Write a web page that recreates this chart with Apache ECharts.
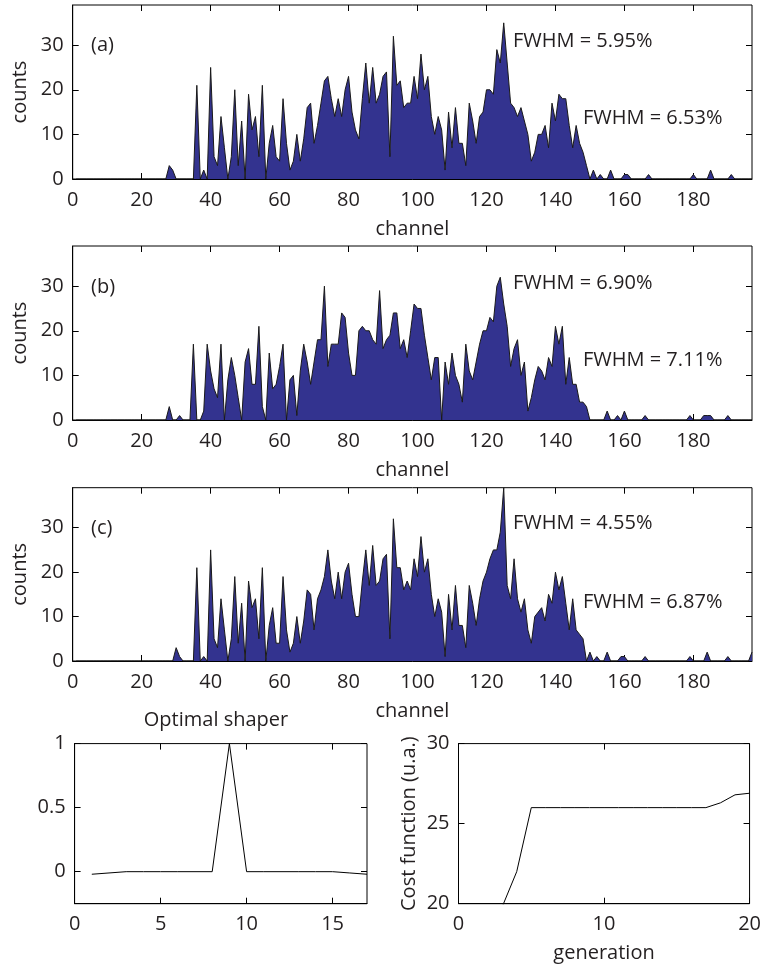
<!DOCTYPE html>
<html>
<head>
<meta charset="utf-8">
<script src="https://cdn.jsdelivr.net/npm/echarts@6/dist/echarts.min.js"></script>
<style>
html,body{margin:0;padding:0;background:#fff;}
#chart{width:764px;height:965px;}
</style>
</head>
<body>
<div id="chart"></div>
<script>
// ---- data (channels 1..197) ----
const countsA = [
0,0,0,0,0,0,0,0,0,0, 0,0,0,0,0,0,0,0,0,0,
0,0,0,0,0,0,0,3,2,0, 0,0,0,0,0,21,0,2,0,25,
5,3,14,7,0,5,20,3,13,0, 19,11,14,5,21,0,8,12,5,4,
18,8,2,4,10,4,9,16,17,8, 12,17,22,23,18,14,18,14,20,23,
15,11,9,18,26,17,25,17,19,23, 24,5,32,21,22,16,17,17,23,18,
28,20,23,14,10,14,11,2,15,7, 16,8,8,3,17,13,8,14,15,20,
20,19,29,26,35,26,17,16,14,16, 13,10,4,6,10,10,12,7,17,13,
19,18,18,12,7,12,8,6,3,0, 2,0,1,0,0,2,0,0,0,1,
1,0,0,0,0,0,1,0,0,0, 0,0,0,0,0,0,0,0,0,1,
0,0,0,0,2,0,0,0,0,0, 1,0,0,0,0,0,0
];
const countsB = [
0,0,0,0,0,0,0,0,0,0, 0,0,0,0,0,0,0,0,0,0,
0,0,0,0,0,0,0,3,0,0, 1,0,0,0,17,0,0,2,17,11,
7,5,17,0,9,14,10,5,0,13, 16,8,8,21,3,0,15,7,8,12,
17,0,9,10,1,11,17,13,8,13, 18,18,30,12,17,17,17,24,23,15,
10,10,20,21,20,20,18,17,29,16, 18,19,24,24,16,18,14,20,26,25,
25,19,14,9,14,14,0,13,8,15, 10,8,4,17,11,9,13,17,20,20,
23,22,30,32,26,21,12,16,18,10, 13,2,5,9,12,11,9,14,12,21,
17,21,8,14,8,8,4,4,3,0, 0,0,0,0,2,0,0,1,0,2,
0,0,0,0,0,1,0,0,0,0, 0,0,0,0,0,0,0,0,1,0,
0,0,1,1,1,0,0,0,0,1, 0,0,0,0,0,0,0
];
const countsC = [
0,0,0,0,0,0,0,0,0,0, 0,0,0,0,0,0,0,0,0,0,
0,0,0,0,0,0,0,0,0,3, 1,0,0,0,0,21,0,1,0,25,
5,3,14,7,0,5,19,4,13,0, 18,12,14,5,21,0,8,12,4,4,
19,7,2,4,10,4,9,16,15,7, 14,16,19,25,18,14,20,14,20,22,
15,10,10,18,25,17,26,17,18,23, 24,5,32,21,21,16,18,16,23,19,
28,20,23,15,10,14,11,1,15,7, 17,8,8,3,17,13,8,14,18,20,
23,25,25,29,39,17,14,23,14,11, 14,7,4,10,11,12,9,15,13,20,
16,19,13,7,14,7,6,5,0,2, 0,1,0,0,2,0,0,0,1,1,
0,0,0,0,0,1,0,0,0,0, 0,0,0,0,0,0,0,0,1,0,
0,0,0,2,0,0,0,0,0,1, 0,0,0,0,0,0,2
];
const shaperX = [1,2,3,4,5,6,7,8,9,10,11,12,13,14,15,16,17];
const shaperY = [-0.02,-0.01,0,0,0,0,0,0,1,0,0,0,0,0,0,-0.01,-0.02];
const genX = [3,4,5,6,7,8,9,10,11,12,13,14,15,16,17,18,19,20];
const costY = [19.8,22,26,26,26,26,26,26,26,26,26,26,26,26,26,26.3,26.8,26.9];

const channelTicks = [0,20,40,60,80,100,120,140,160,180];
const countTicks = [0,10,20,30];
const shaperXTicks = [0,5,10,15];
const shaperYTicks = [0,0.5,1];
const genTicks = [0,10,20];
const costTicks = [20,25,30];

const fwhmLabels = [
  ['FWHM = 5.95%','FWHM = 6.53%'],
  ['FWHM = 6.90%','FWHM = 7.11%'],
  ['FWHM = 4.55%','FWHM = 6.87%']
];
const panelTags = ['(a)','(b)','(c)'];

// ---- layout ----
const FONT = 'Open Sans';
const TXT = '#231f20';
const grids = [
  {left:72.7, top:5,     width:679.3, height:174},
  {left:72.7, top:246,   width:679.3, height:174},
  {left:72.7, top:487.7, width:679.3, height:173.3},
  {left:74.6, top:743.6, width:292.4, height:160.1},
  {left:458.5,top:743.6, width:292.5, height:160.1}
];
const gridOpts = grids.map(g => Object.assign({show:true, borderColor:'#000', borderWidth:1, backgroundColor:'transparent'}, g));

function mkAxis(type, gi, min, max, ticks, opts) {
  opts = opts || {};
  const main = {
    type:'value', gridIndex:gi, min:min, max:max,
    position: type === 'x' ? 'bottom' : 'left',
    axisLine:{show:true, onZero:false, lineStyle:{color:'#000', width:1}},
    axisTick:{show:true, inside:true, length:6, lineStyle:{color:'#000'}, customValues:ticks},
    axisLabel:{show:true, customValues:ticks, color:TXT, fontFamily:FONT, fontSize:20,
               margin: type==='x' ? 11 : 9, padding: type==='x' ? 0 : [8,0,0,0]},
    splitLine:{show:false}
  };
  if (opts.name) {
    main.name = opts.name;
    main.nameLocation = 'middle';
    main.nameGap = opts.nameGap;
    main.nameTextStyle = {color:TXT, fontFamily:FONT, fontSize:20};
  }
  const mirror = {
    type:'value', gridIndex:gi, min:min, max:max,
    position: type === 'x' ? 'top' : 'right',
    axisLine:{show:false, onZero:false},
    axisTick:{show:true, inside:true, length:6, lineStyle:{color:'#000'}, customValues:ticks},
    axisLabel:{show:false},
    splitLine:{show:false}
  };
  return [main, mirror];
}

const xAxes = [], yAxes = [];
for (let i = 0; i < 3; i++) {
  xAxes.push(...mkAxis('x', i, 0, 197, channelTicks, {name:'channel', nameGap:40}));
  yAxes.push(...mkAxis('y', i, 0, 39, countTicks, {name:'counts', nameGap:40}));
}
xAxes.push(...mkAxis('x', 3, 0, 17, shaperXTicks));
yAxes.push(...mkAxis('y', 3, -0.25, 1, shaperYTicks));
xAxes.push(...mkAxis('x', 4, 0, 20, genTicks, {name:'generation', nameGap:40}));
yAxes.push(...mkAxis('y', 4, 20, 30, costTicks, {name:'Cost function (u.a.)', nameGap:39}));

const allCounts = [countsA, countsB, countsC];
const series = allCounts.map((arr, i) => ({
  type:'line', xAxisIndex:i*2, yAxisIndex:i*2,
  data: arr.map((v, k) => [k + 1, v]),
  symbol:'none', showSymbol:false, silent:true, animation:false,
  lineStyle:{color:'#1a1a1a', width:1},
  areaStyle:{color:'#33338f', opacity:1, origin:'start'},
  clip:true
}));
series.push({
  type:'line', xAxisIndex:6, yAxisIndex:6,
  data: shaperX.map((x, k) => [x, shaperY[k]]),
  symbol:'none', silent:true, animation:false,
  lineStyle:{color:'#000', width:1}, clip:true
});
series.push({
  type:'line', xAxisIndex:8, yAxisIndex:8,
  data: genX.map((x, k) => [x, costY[k]]),
  symbol:'none', silent:true, animation:false,
  lineStyle:{color:'#000', width:1}, clip:true
});

// ---- annotations ----
const graphics = [];
const tagY = [45, 287, 528];
const f1Y = [41, 283, 523];
const f2Y = [118, 360, 602];
for (let i = 0; i < 3; i++) {
  graphics.push({type:'text', style:{x:91, y:tagY[i], text:panelTags[i], fill:TXT, fontFamily:FONT, fontSize:20, textVerticalAlign:'middle'}});
  graphics.push({type:'text', style:{x:513, y:f1Y[i], text:fwhmLabels[i][0], fill:TXT, fontFamily:FONT, fontSize:20, textVerticalAlign:'middle'}});
  graphics.push({type:'text', style:{x:583, y:f2Y[i], text:fwhmLabels[i][1], fill:TXT, fontFamily:FONT, fontSize:20, textVerticalAlign:'middle'}});
}
graphics.push({type:'text', style:{x:216, y:720, text:'Optimal shaper', fill:TXT, fontFamily:FONT, fontSize:20, textAlign:'center', textVerticalAlign:'middle'}});

const chart = echarts.init(document.getElementById('chart'), null, {renderer:'canvas'});
chart.setOption({
  animation:false,
  backgroundColor:'#fff',
  grid:gridOpts,
  xAxis:xAxes,
  yAxis:yAxes,
  series:series,
  graphic:graphics
});
</script>
</body>
</html>
